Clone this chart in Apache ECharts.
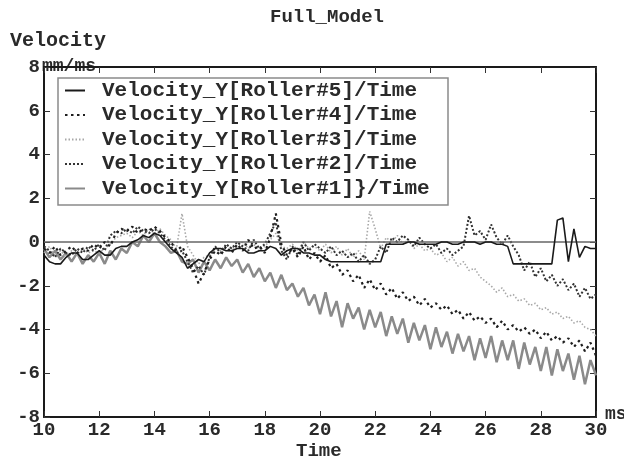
<!DOCTYPE html>
<html><head><meta charset="utf-8">
<script src="https://cdn.jsdelivr.net/npm/echarts@6/dist/echarts.min.js"></script>
<style>html,body{margin:0;padding:0;background:#fff}#c{width:624px;height:461px}</style>
</head><body><div id="c"></div>
<script>
var xTicks = [10,12,14,16,18,20,22,24,26,28,30];
var yTicks = [-8,-6,-4,-2,0,2,4,6,8];
var seriesNames = ['Velocity_Y[Roller#5]/Time','Velocity_Y[Roller#4]/Time','Velocity_Y[Roller#3]/Time','Velocity_Y[Roller#2]/Time','Velocity_Y[Roller#1]}/Time'];
var time = [10.0,10.2,10.4,10.6,10.8,11.0,11.2,11.4,11.6,11.8,12.0,12.2,12.4,12.6,12.8,13.0,13.2,13.4,13.6,13.8,
14.0,14.2,14.4,14.6,14.8,15.0,15.2,15.4,15.6,15.8,16.0,16.2,16.4,16.6,16.8,17.0,17.2,17.4,17.6,17.8,
18.0,18.2,18.4,18.6,18.8,19.0,19.2,19.4,19.6,19.8,20.0,20.2,20.4,20.6,20.8,21.0,21.2,21.4,21.6,21.8,
22.0,22.2,22.4,22.6,22.8,23.0,23.2,23.4,23.6,23.8,24.0,24.2,24.4,24.6,24.8,25.0,25.2,25.4,25.6,25.8,
26.0,26.2,26.4,26.6,26.8,27.0,27.2,27.4,27.6,27.8,28.0,28.2,28.4,28.6,28.8,29.0,29.2,29.4,29.6,29.8,30.0];
var roller5 = [-0.6,-0.9,-1.0,-1.0,-0.7, -0.5,-0.5,-0.8,-0.8,-0.6, -0.4,-0.6,-0.6,-0.3,-0.2, -0.2,0.0,0.1,0.3,0.2,
0.4,0.3,0.0,-0.3,-0.5, -0.7,-1.2,-1.0,-0.8,-0.9, -0.5,-0.3,-0.3,-0.4,-0.4, -0.3,-0.3,-0.5,-0.5,-0.4,
-0.4,-0.2,-0.3,-0.6,-0.4, -0.3,-0.3,-0.5,-0.5,-0.6, -0.6,-0.8,-0.9,-0.9,-0.9, -0.9,-0.9,-0.9,-0.9,-0.9,
-0.9,-0.9,-0.1,-0.1,-0.1, -0.1,0.0,0.0,-0.1,-0.1, -0.1,-0.1,0.0,0.0,-0.1, -0.1,0.0,0.0,0.0,-0.1,
0.0,0.0,-0.1,-0.1,-0.2, -1.0,-1.0,-1.0,-1.0,-1.0, -1.0,-1.0,-1.0,1.0,1.1, -0.9,0.6,-0.7,-0.2,-0.3, -0.3];
var roller4 = [-0.3,-0.5,-0.2,-0.6,-0.4, -0.2,-0.5,-0.3,-0.4,-0.1, -0.3,0.0,-0.2,0.4,0.6, 0.5,0.7,0.4,0.6,0.5,
0.7,0.5,0.2,0.0,-0.4, -0.2,-0.7,-1.2,-1.9,-1.4, -0.8,-0.4,-0.6,-0.2,-0.5, -0.1,-0.4,0.1,-0.3,-0.2,
-0.5,0.2,1.3,-0.1,-0.6, -0.3,-0.7,-0.2,-0.8,-0.5, -0.9,-0.6,-1.2,-1.0,-1.5, -1.3,-1.8,-1.5,-2.1,-1.7,
-2.2,-1.9,-2.4,-2.1,-2.6, -2.3,-2.7,-2.5,-2.9,-2.6, -3.0,-2.8,-3.1,-2.9,-3.3, -3.1,-3.5,-3.2,-3.6,-3.4,
-3.7,-3.5,-3.9,-3.6,-4.0, -3.8,-4.1,-3.9,-4.2,-4.0, -4.4,-4.1,-4.5,-4.3,-4.6, -4.4,-4.8,-4.5,-5.0,-4.6, -5.2];
var roller3 = [-0.5,-0.2,-0.6,-0.4,-0.7, -0.4,-0.6,-0.3,-0.5,-0.4, -0.5,-0.3,-0.1,0.2,0.3, 0.4,0.2,0.5,0.3,0.6,
0.4,0.6,0.3,0.1,-0.3, 1.3,-0.2,-0.6,-1.0,-0.7, -0.6,-0.3,-0.4,-0.1,-0.3, -0.2,0.0,-0.3,-0.1,-0.4,
-0.2,0.1,0.4,-0.2,-0.3, -0.1,-0.4,0.0,-0.3,-0.2, -0.4,-0.1,-0.5,-0.2,-0.6, -0.3,-0.7,-0.4,-0.8,1.4,
0.6,-0.3,0.2,0.0,0.3, -0.1,0.1,-0.3,-0.1,-0.4, -0.3,-0.6,-0.5,-0.9,-0.7, -1.1,-0.9,-1.3,-1.2,-1.6,
-1.8,-2.0,-2.3,-2.1,-2.5, -2.4,-2.7,-2.6,-2.9,-2.8, -3.1,-3.0,-3.3,-3.2,-3.5, -3.4,-3.7,-3.6,-3.9,-4.0, -4.3];
var roller2 = [-0.2,-0.4,-0.7,-0.3,-0.5, -0.6,-0.3,-0.5,-0.2,-0.4, -0.1,-0.4,0.3,0.5,0.4, 0.6,0.4,0.7,0.5,0.4,
0.6,0.4,0.1,-0.2,-0.5, -0.4,-0.9,-1.4,-1.1,-1.5, -0.7,-0.2,-0.5,-0.1,-0.3, 0.0,-0.2,-0.4,0.1,-0.3,
-0.1,0.4,0.9,-0.4,-0.8, -0.2,-0.6,0.0,-0.4,-0.1, -0.3,-0.5,-0.2,-0.6,-0.4, -0.7,-0.5,-0.9,-0.6,-1.0,
-0.8,-0.2,-0.5,0.2,0.0, 0.3,0.1,-0.2,0.2,-0.1, -0.3,-0.1,-0.5,-0.3,-0.6, -0.4,-0.2,1.2,0.3,0.5,
0.1,0.8,0.2,-0.1,0.3, -0.2,-0.6,-1.3,-0.9,-1.6, -1.2,-1.8,-1.5,-2.0,-1.7, -2.2,-1.9,-2.5,-2.1,-2.6, -2.4];
var roller1 = [-0.3,-0.7,-0.4,-0.8,-0.5, -0.9,-0.5,-1.0,-0.6,-0.9, -0.5,-1.0,-0.4,-0.8,-0.3, -0.5,0.0,-0.2,0.3,0.0,
0.4,0.0,-0.2,-0.5,-0.4, -0.9,-1.0,-0.8,-1.4,-0.9, -1.3,-0.8,-1.2,-0.7,-1.1, -0.8,-1.4,-1.0,-1.6,-1.2,
-1.8,-1.4,-2.1,-1.5,-2.2, -1.9,-2.5,-2.1,-2.9,-2.4, -3.3,-2.3,-3.4,-2.7,-3.9, -2.8,-3.5,-3.0,-4.0,-3.1,
-3.9,-3.2,-4.3,-3.4,-4.2, -3.5,-4.6,-3.7,-4.5,-3.8, -4.9,-3.9,-4.8,-4.1,-5.1, -4.2,-5.0,-4.3,-5.4,-4.4,
-5.3,-4.3,-5.5,-4.5,-5.4, -4.5,-5.8,-4.6,-5.6,-4.8, -5.9,-4.8,-6.1,-4.9,-5.9, -5.1,-6.3,-5.2,-6.5,-5.4, -6.1];

function pairs(vals){ return time.map(function(t,i){ return [t, vals[i]]; }); }
var FONT = 'Liberation Mono';
var TXT = '#2a2a2a';
var chart = echarts.init(document.getElementById('c'), null, {renderer:'canvas'});
function ax(pos, showLabel, isX){
  var a = {type:'value', position:pos,
    axisLine:{show:true, onZero:false, lineStyle:{color:'#1a1a1a', width:2}},
    axisTick:{show:true, inside:true, length:6, lineStyle:{color:'#333'}},
    splitLine:{show:false},
    axisLabel: showLabel ? {fontFamily:FONT, fontSize:19, fontWeight:'bold', color:TXT, margin:4} : {show:false}};
  if (isX) { a.min = 10; a.max = 30; a.interval = 2; } else { a.min = -8; a.max = 8; a.interval = 2; }
  return a;
}
chart.setOption({
  animation: false,
  backgroundColor: '#fff',
  title: {text:'Full_Model', left: 322, top: 3, textAlign:'center',
    textStyle:{fontFamily:FONT, fontSize:19, fontWeight:'bold', color:TXT}},
  grid: {left:44, right:28, top:67, bottom:44, containLabel:false},
  legend: {
    data: seriesNames, orient:'vertical', left: 64, top: 80,
    itemWidth: 20, itemHeight: 10, itemGap: 3.5,
    itemStyle: {opacity: 0},
    textStyle:{fontFamily:FONT, fontSize:21, fontWeight:'bold', color:TXT, lineHeight:20, padding:[0,0,0,12]},
    selectedMode:false, padding:0
  },
  xAxis: [ax('bottom', true, true), ax('top', false, true)],
  yAxis: [ax('left', true, false), ax('right', false, false)],
  graphic: [
    {type:'text', left:10, top:31, style:{text:'Velocity', font:'bold 20px "Liberation Mono"', fill:TXT}},
    {type:'text', left:42, top:57, style:{text:'mm/ms', font:'bold 18px "Liberation Mono"', fill:TXT}},
    {type:'text', left:296, top:442, style:{text:'Time', font:'bold 19px "Liberation Mono"', fill:TXT}},
    {type:'text', left:605, top:405, style:{text:'ms', font:'bold 18px "Liberation Mono"', fill:TXT}},
    {type:'rect', shape:{x:58, y:78, width:390, height:127}, style:{fill:'none', stroke:'#8a8a8a', lineWidth:1.5}, z:10}
  ],
  series: [
    {name:seriesNames[4], type:'line', data:pairs(roller1), showSymbol:false, symbol:'none',
      lineStyle:{color:'#8a8a8a', width:2.5}, itemStyle:{color:'#8a8a8a'}, z:2},
    {name:seriesNames[2], type:'line', data:pairs(roller3), showSymbol:false, symbol:'none',
      lineStyle:{color:'#a8a8a8', width:1.6, type:[1.5,2]}, itemStyle:{color:'#a8a8a8'}, z:3},
    {name:seriesNames[3], type:'line', data:pairs(roller2), showSymbol:false, symbol:'none',
      lineStyle:{color:'#333', width:2, type:[2,2]}, itemStyle:{color:'#333'}, z:4},
    {name:seriesNames[1], type:'line', data:pairs(roller4), showSymbol:false, symbol:'none',
      lineStyle:{color:'#1e1e1e', width:2.2, type:[2.5,3.5]}, itemStyle:{color:'#1e1e1e'}, z:5},
    {name:seriesNames[0], type:'line', data:pairs(roller5), showSymbol:false, symbol:'none',
      lineStyle:{color:'#1a1a1a', width:1.6}, itemStyle:{color:'#1a1a1a'}, z:6,
      markLine:{silent:true, symbol:'none', label:{show:false},
        lineStyle:{color:'#666', width:1.5, type:'solid'}, data:[{yAxis:0}]}}
  ]
});
</script></body></html>
